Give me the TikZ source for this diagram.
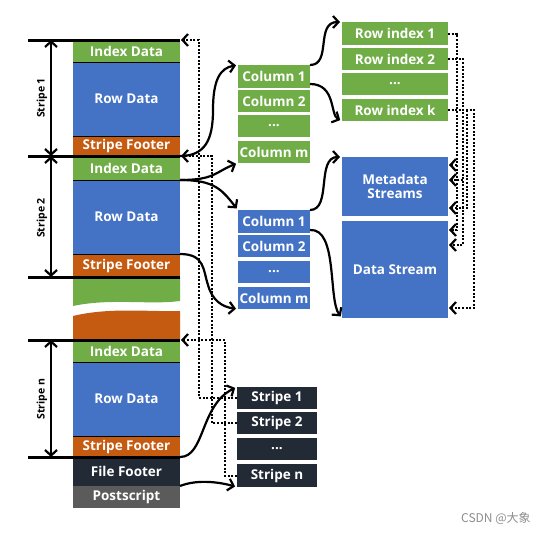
\documentclass[tikz,border=0pt]{standalone}
\usepackage{fontspec}
\setmainfont{Open Sans}
\newfontfamily\cjkf{Noto Sans CJK SC}
\usetikzlibrary{arrows.meta,calc}
\definecolor{cgreen}{HTML}{70AD47}
\definecolor{cblue}{HTML}{4472C4}
\definecolor{corange}{HTML}{C55A11}
\definecolor{cnavy}{HTML}{222A35}
\definecolor{cgray}{HTML}{5B5B5B}
\newcommand\mkbox[7]{\node[blk,fill=#2,minimum width={(#5-#3)*1pt},minimum height={(#6-#4)*1pt}] (#1) at (#3,#4) {#7};}
\tikzset{
  myarr/.tip={Straight Barb[length=5.5pt,width=12pt,line width=2.2pt]},
  blk/.style={inner sep=0pt,outer sep=0pt,anchor=north west,text=white,align=center,
    font=\bfseries\fontsize{13.5}{14.5}\selectfont},
  heavy/.style={line width=3pt,black},
  thinsep/.style={line width=1pt,black},
  dim/.style={line width=2.2pt,{myarr}-{myarr}},
  conn/.style={line width=2.2pt,-{myarr},shorten >=2pt},
  dotc/.style={line width=2pt,dash pattern=on 2pt off 1.6pt,-{myarr},shorten >=1pt},
  slabel/.style={rotate=90,font=\bfseries\fontsize{10.5}{11}\selectfont,inner sep=0pt}
}
\begin{document}
\begin{tikzpicture}[x=1pt,y=-1pt]
\useasboundingbox (0,0) rectangle (552,533);
% left column
\mkbox{sa}{cgreen}{73}{40}{180}{62}{Index Data}
\mkbox{sb}{cblue}{73}{62}{180}{136}{Row Data}
\mkbox{sc}{corange}{73}{136}{180}{156}{Stripe Footer}
\mkbox{ta}{cgreen}{73}{156}{180}{180}{Index Data}
\mkbox{tb}{cblue}{73}{180}{180}{254}{Row Data}
\mkbox{tc}{corange}{73}{254}{180}{277}{Stripe Footer}
\mkbox{na}{cgreen}{73}{340}{180}{362}{Index Data}
\mkbox{nb}{cblue}{73}{362}{180}{436}{Row Data}
\mkbox{nc}{corange}{73}{436}{180}{457}{Stripe Footer}
\mkbox{ff}{cnavy}{73}{457}{180}{486}{File Footer}
\mkbox{ps}{cgray}{73}{486}{180}{508}{Postscript}
\fill[cgreen] (73,277) -- (180,277) -- (180,301) .. controls (150,305) and (110,298) .. (73,306) -- cycle;
\fill[corange] (73,316) .. controls (110,307) and (150,312) .. (180,311) -- (180,340) -- (73,340) -- cycle;
\foreach \yy in {62,136,180,254,362,436} \draw[thinsep] (73,\yy) -- (180,\yy);
\foreach \yy in {40,156,277,340,457} \draw[heavy] (28,\yy) -- (180,\yy);
% stripe dimension arrows
\coordinate (d1a) at (51,40); \coordinate (d1b) at (51,156);
\coordinate (d2a) at (51,156); \coordinate (d2b) at (51,277);
\coordinate (d3a) at (51,340); \coordinate (d3b) at (51,457);
\draw[dim] (d1a) -- (d1b);
\draw[dim] (d2a) -- (d2b);
\draw[dim] (d3a) -- (d3b);
\node[slabel] (l1) at (42,98) {Stripe 1};
\node[slabel] (l2) at (42,218) {Stripe 2};
\node[slabel] (l3) at (42,399) {Stripe n};
% middle columns
\mkbox{gc1}{cgreen}{238}{65}{310}{88}{Column 1}
\mkbox{gc2}{cgreen}{238}{90}{310}{112}{Column 2}
\mkbox{gcd}{cgreen}{238}{115}{310}{137}{...}
\mkbox{gcm}{cgreen}{238}{141}{310}{163}{Column m}
\mkbox{bc1}{cblue}{238}{210}{310}{233}{Column 1}
\mkbox{bc2}{cblue}{238}{235}{310}{257}{Column 2}
\mkbox{bcd}{cblue}{238}{261}{310}{283}{...}
\mkbox{bcm}{cblue}{238}{287}{310}{309}{Column m}
\mkbox{st1}{cnavy}{237}{387}{317}{409}{Stripe 1}
\mkbox{st2}{cnavy}{237}{412}{317}{434}{Stripe 2}
\mkbox{std}{cnavy}{237}{438}{317}{460}{...}
\mkbox{stn}{cnavy}{237}{464}{317}{487}{Stripe n}
% right columns
\mkbox{ri1}{cgreen}{342}{22}{448}{45}{Row index 1}
\mkbox{ri2}{cgreen}{342}{48}{448}{70}{Row index 2}
\mkbox{rid}{cgreen}{342}{73}{448}{95}{...}
\mkbox{rik}{cgreen}{342}{99}{448}{121}{Row index k}
\mkbox{meta}{cblue}{342}{157}{448}{216}{Metadata\\Streams}
\mkbox{data}{cblue}{342}{221}{448}{318}{Data Stream}
% solid connectors
\draw[conn] (sc.south east) .. controls (205,156) and (213,140) .. (213,110)
   .. controls (213,80) and (220,68) .. (gc1.north west);
\draw[conn] (ta.south east) .. controls (215,180) and (215,172) .. (gcm.south west);
\draw[conn] (ta.south east) .. controls (215,180) and (222,190) .. (bc1.north west);
\draw[conn] (tb.south east) .. controls (205,254) and (203,270) .. (208,285)
   .. controls (212,300) and (222,307) .. (bcm.south west);
\draw[conn] (gc1.north east) .. controls (332,65) and (315,22) .. (ri1.north west);
\draw[conn] ($(gc1.south east)+(0,-4)$) .. controls (336,84) and (330,115) .. (rik.south west);
\draw[conn] (bc1.north east) .. controls (332,210) and (316,157) .. (meta.north west);
\draw[conn] ($(bc1.south east)+(0,-3)$) .. controls (338,228) and (328,300) .. (data.south west);
\draw[conn] (nc.south east) .. controls (205,457) and (200,405) .. (st1.north west);
\draw[conn] (ff.south east) .. controls (195,480) and (215,481) .. (stn.south west);
% dotted connectors, stripe list
\draw[dotc] (st1.west) -- (199,398) -- (199,40) -- (sa.north east);
\draw[dotc] (st2.west) -- (212,423) -- (212,156) -- (ta.north east);
\draw[dotc] (stn.west) -- (225,475.5) -- (225,340) -- (na.north east);
% dotted connectors, row indexes
\coordinate (m1) at ($(meta.north east)+(0,8)$);
\coordinate (m2) at ($(meta.north east)+(0,23)$);
\coordinate (m3) at ($(meta.north east)+(0,51)$);
\coordinate (e1) at ($(data.north east)+(0,9)$);
\coordinate (e2) at ($(data.north east)+(0,24)$);
\coordinate (e3) at ($(data.north east)+(0,87)$);
\draw[dotc] (ri1.east) -- (457,33.5) -- (457,230) -- (e1);
\draw[dotc] (457,165) -- (m1);
\draw[dotc] (ri2.east) -- (463,59) -- (463,245) -- (e2);
\draw[dotc] (463,180) -- (m2);
\draw[dotc] (rik.east) -- (474,110) -- (474,308) -- (e3);
\draw[dotc] (467,110) -- (467,208) -- (m3);
% watermark
\node[anchor=west,text=black!45,font=\cjkf\fontsize{12}{14}\selectfont,inner sep=0pt] (wm) at (461,518) {CSDN @大象};
\end{tikzpicture}
\end{document}
